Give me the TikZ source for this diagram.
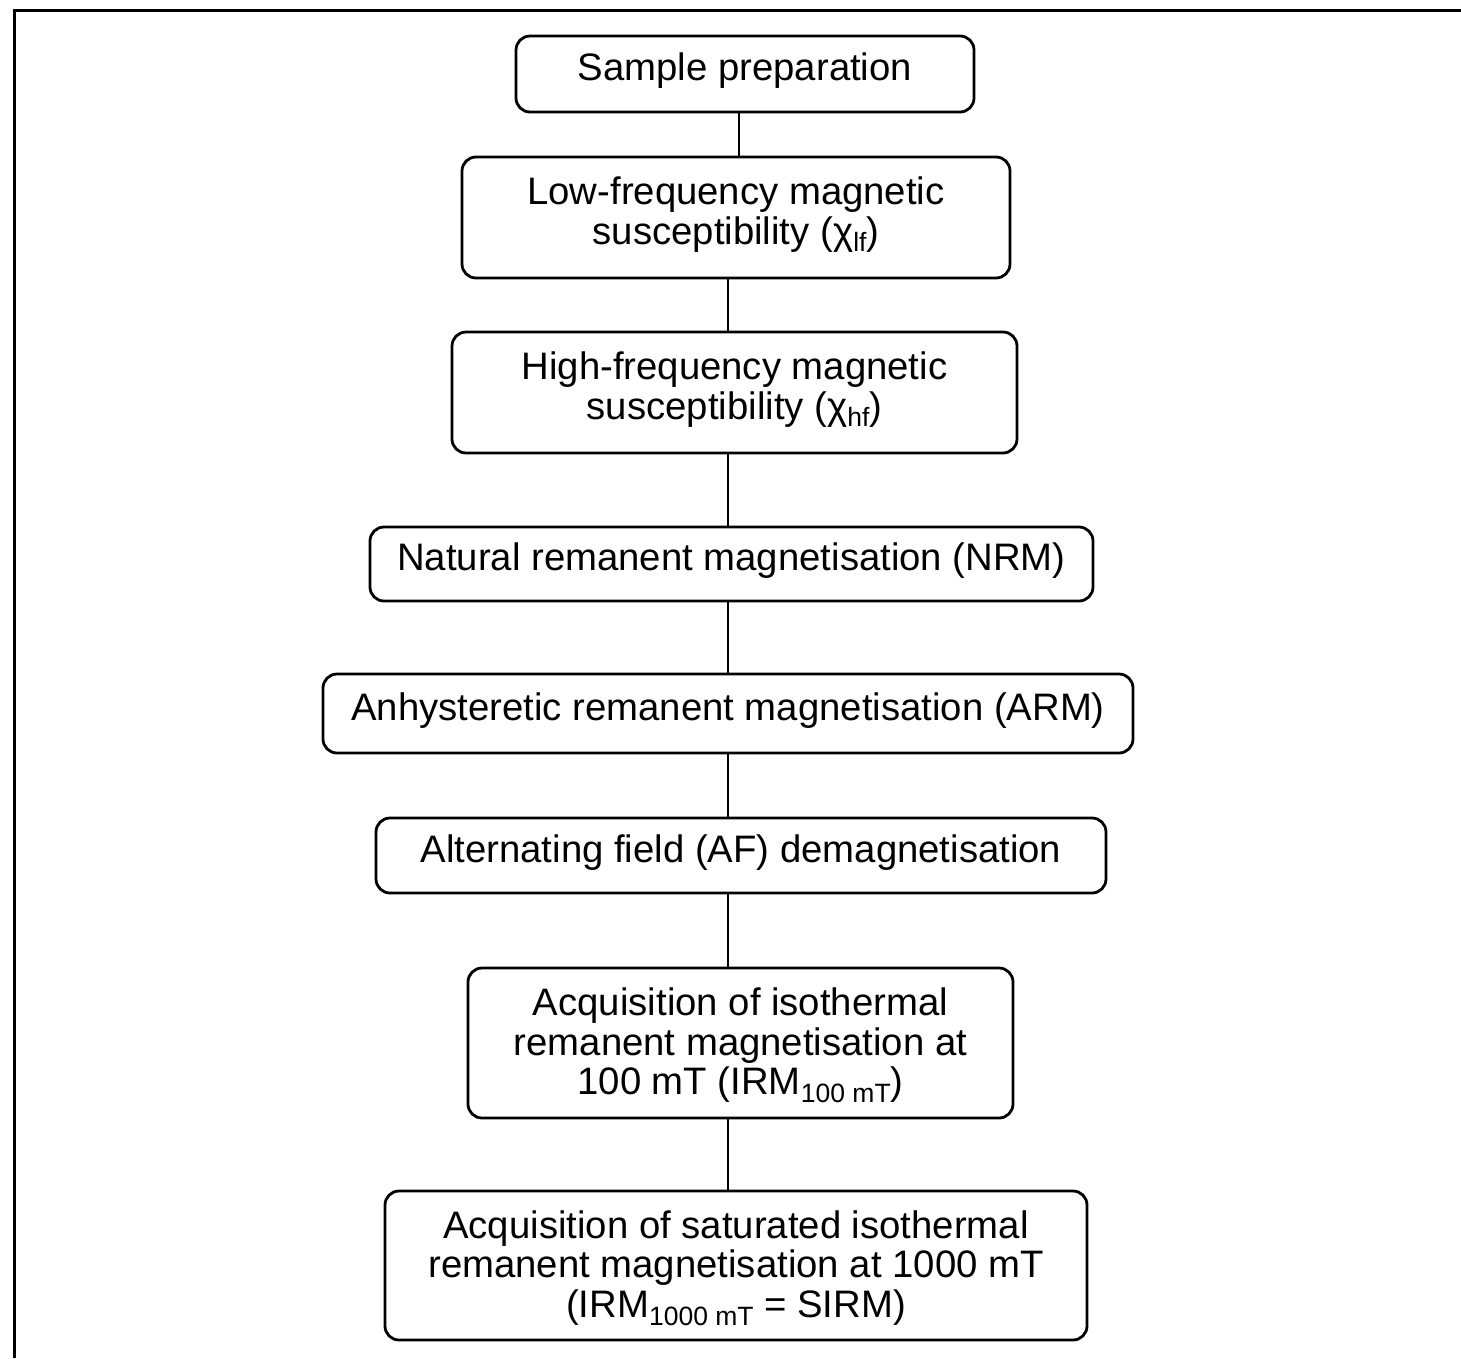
\documentclass[tikz,border=0pt]{standalone}
\usepackage{fontspec}
\setmainfont{Liberation Sans}
\newcommand\subsc[1]{\raisebox{-0.2em}{\fontsize{26.5}{26.5}\selectfont #1}}
\begin{document}
\begin{tikzpicture}[x=1pt,y=-1pt,
  stepbox/.style={draw=black, line width=2.8pt, rounded corners=14pt, align=center,
    inner sep=0pt, text depth=14pt, font=\fontsize{38.3}{39.5}\selectfont},
  conn/.style={draw=black, line width=1.6pt},
  frameline/.style={draw=black, line width=3pt}]
\useasboundingbox (0,0) rectangle (1461,1358);
\coordinate (ftl) at (14,10);
\coordinate (ftr) at (1461,10);
\coordinate (fbl) at (14,1358);
\draw[frameline] (ftr) -- (ftl) -- (fbl);

\node[stepbox, minimum width=458pt, minimum height=76pt] (b1) at (745,74) {Sample preparation};
\node[stepbox, minimum width=548pt, minimum height=121pt] (b2) at (736,217.5) {Low-frequency magnetic\\susceptibility (χ\subsc{lf})};
\node[stepbox, minimum width=565pt, minimum height=121pt] (b3) at (734.5,392.5) {High-frequency magnetic\\susceptibility (χ\subsc{hf})};
\node[stepbox, minimum width=723pt, minimum height=74pt] (b4) at (731.5,564) {Natural remanent magnetisation (NRM)};
\node[stepbox, minimum width=810pt, minimum height=79pt] (b5) at (728,713.5) {Anhysteretic remanent magnetisation (ARM)};
\node[stepbox, minimum width=730pt, minimum height=75pt] (b6) at (741,855.5) {Alternating field (AF) demagnetisation};
\node[stepbox, text depth=3pt, minimum width=545pt, minimum height=150pt] (b7) at (740.5,1043) {Acquisition of isothermal\\remanent magnetisation at\\100 mT (IRM\subsc{100 mT})};
\node[stepbox, text depth=3pt, minimum width=702pt, minimum height=149pt] (b8) at (736,1265.5) {Acquisition of saturated isothermal\\remanent magnetisation at 1000 mT\\(IRM\subsc{1000 mT} = SIRM)};

\coordinate (xa) at (739,0);
\coordinate (xb) at (728,0);
\draw[conn] (b1.south -| xa) -- (b2.north -| xa);
\draw[conn] (b2.south -| xb) -- (b3.north -| xb);
\draw[conn] (b3.south -| xb) -- (b4.north -| xb);
\draw[conn] (b4.south -| xb) -- (b5.north -| xb);
\draw[conn] (b5.south -| xb) -- (b6.north -| xb);
\draw[conn] (b6.south -| xb) -- (b7.north -| xb);
\draw[conn] (b7.south -| xb) -- (b8.north -| xb);
\end{tikzpicture}
\end{document}
